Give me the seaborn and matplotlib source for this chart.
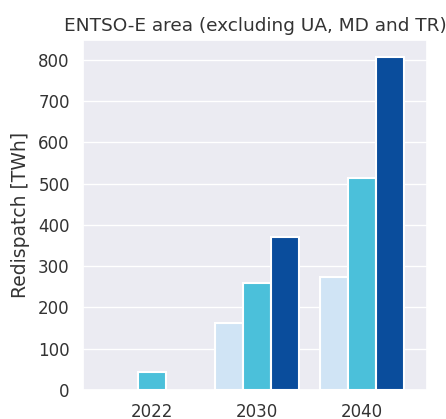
import matplotlib
matplotlib.use("Agg")
import matplotlib.pyplot as plt
import pandas as pd
import seaborn as sns

years = ["2022", "2022", "2022", "2030", "2030", "2030", "2040", "2040", "2040"]
scenarios = ["A", "B", "C"] * 3
redispatch = [None, 45, None, 163, 260, 371, 273, 514, 806]

scenario_order = ["A", "B", "C"]
colors = ["#d0e4f5", "#4bc0da", "#0a4d9c"]

df = pd.DataFrame({"year": years, "scenario": scenarios, "redispatch": redispatch})
df = df.dropna()

sns.set_theme(style="darkgrid", rc={"axes.facecolor": "#ebebf2"})
plt.rcParams["font.family"] = ["DejaVu Sans"]

fig = plt.figure(figsize=(4.46, 4.19), dpi=100)
ax = fig.add_axes([0.186, 0.069, 0.771, 0.836])

sns.barplot(
    data=df,
    x="year",
    y="redispatch",
    hue="scenario",
    hue_order=scenario_order,
    order=["2022", "2030", "2040"],
    palette=colors,
    saturation=1,
    edgecolor="white",
    linewidth=1.5,
    ax=ax,
)
ax.legend_.remove()
ax.set_xlim(-0.66, 2.62)
ax.set_ylim(0, 848)
ax.set_yticks(range(0, 801, 100))
ax.set_xlabel("")
ax.set_ylabel("Redispatch [TWh]", fontsize=13.5, color="#333333", labelpad=6)
ax.set_title("ENTSO-E area (excluding UA, MD and TR)", fontsize=13.3, color="#333333", pad=6)
ax.tick_params(axis="both", labelsize=12, colors="#333333")

fig.savefig("out.png", dpi=100)
